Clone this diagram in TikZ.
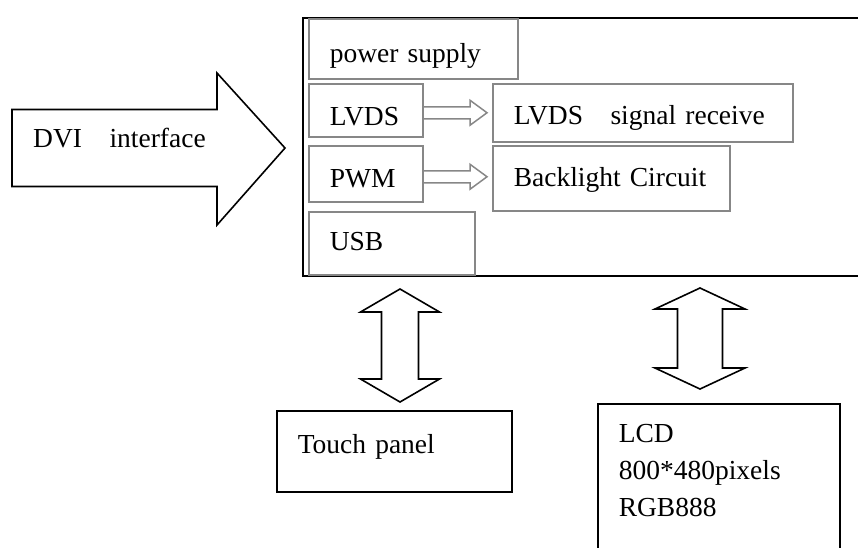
\documentclass[tikz,border=0pt]{standalone}
\usepackage{fontspec}
\setmainfont{Liberation Serif}
\usetikzlibrary{calc}
\definecolor{boxgray}{RGB}{135,135,135}
\begin{document}
\begin{tikzpicture}[x=1pt,y=-1pt,
  font=\fontsize{27.5}{37}\selectfont,
  gbox/.style={draw=boxgray, line width=1.5pt, anchor=north west, inner xsep=21pt, inner ysep=0pt, align=left},
  kbox/.style={gbox, draw=black},
  mainbox/.style={draw=black, line width=2pt, anchor=north west, inner sep=0pt},
  bigarrow/.style={draw=black, line width=1.6pt, line join=miter},
  smallarrow/.style={draw=boxgray, line width=1.5pt, line join=miter},
  lbl/.style={anchor=base west, inner sep=0pt}]
\useasboundingbox (0,0) rectangle (858,547);

% main board
\node[mainbox, minimum width=620pt, minimum height=258pt] (main) at (302,17) {};

% inner blocks
\node[gbox, text width=167pt, text height=44pt, text depth=16pt] (ps) at (308,18) {power supply};
\node[gbox, text width=72pt, text height=42pt, text depth=11pt] (lvds) at (308,83) {LVDS};
\node[gbox, text width=72pt, text height=42pt, text depth=14pt] (pwm) at (308,145) {PWM};
\node[gbox, text width=124pt, text height=39pt, text depth=24pt] (usb) at (308,211) {USB};
\node[gbox, text width=258pt, text height=41pt, text depth=17pt] (lvdsr) at (492,83) {LVDS\hspace{1em}signal receive};
\node[gbox, text width=195pt, text height=41pt, text depth=24pt] (bl) at (492,145) {Backlight Circuit};

% outer blocks
\node[kbox, text width=193pt, text height=43pt, text depth=38pt] (touch) at (276,410) {Touch panel};
\node[kbox, text width=200pt, text height=39pt, text depth=131pt] (lcd) at (597,403) {LCD\\800*480pixels\\RGB888};

% DVI arrow
\coordinate (dvitip) at ($(main.north west)+(-17,131)$);
\node[lbl] (dvi) at (33,147) {DVI\hspace{1em}interface};
\draw[bigarrow] ($(dvitip)+(-273,-38.5)$) -- ($(dvitip)+(-68,-38.5)$) -- ($(dvitip)+(-68,-75)$)
  -- (dvitip) -- ($(dvitip)+(-68,77)$) -- ($(dvitip)+(-68,38.5)$) -- ($(dvitip)+(-273,38.5)$) -- cycle;

% small hollow arrows
\newcommand\hollowarrow[2]{%
  \draw[smallarrow] ($(#1)+(0,-6)$) -- ($(#2)+(-17,-6)$) -- ($(#2)+(-17,-12.5)$) -- (#2)
    -- ($(#2)+(-17,12.5)$) -- ($(#2)+(-17,6)$) -- ($(#1)+(0,6)$);}
\coordinate (t1) at ($(lvdsr.west)+(-5,0)$);
\coordinate (s1) at (lvds.east |- t1);
\hollowarrow{s1}{t1}
\coordinate (t2) at ($(bl.west)+(-5,-1.5)$);
\coordinate (s2) at (pwm.east |- t2);
\hollowarrow{s2}{t2}

% vertical double arrows
\newcommand\vdarrow[5]{%
  \draw[bigarrow] (#1) -- ($(#1)+(#3,#5)$) -- ($(#1)+(#4,#5)$) -- ($(#2)+(#4,-#5)$)
    -- ($(#2)+(#3,-#5)$) -- (#2) -- ($(#2)+(-#3,-#5)$) -- ($(#2)+(-#4,-#5)$)
    -- ($(#1)+(-#4,#5)$) -- ($(#1)+(-#3,#5)$) -- cycle;}
\coordinate (ua) at ($(main.south west)+(98,12)$);
\coordinate (ub) at ($(touch.north west)+(124,-8)$);
\vdarrow{ua}{ub}{39.5}{18.5}{23}
\coordinate (la) at ($(main.south west)+(398,11)$);
\coordinate (lb) at ($(lcd.north west)+(103,-14)$);
\vdarrow{la}{lb}{45}{22.5}{21}
\end{tikzpicture}
\end{document}
